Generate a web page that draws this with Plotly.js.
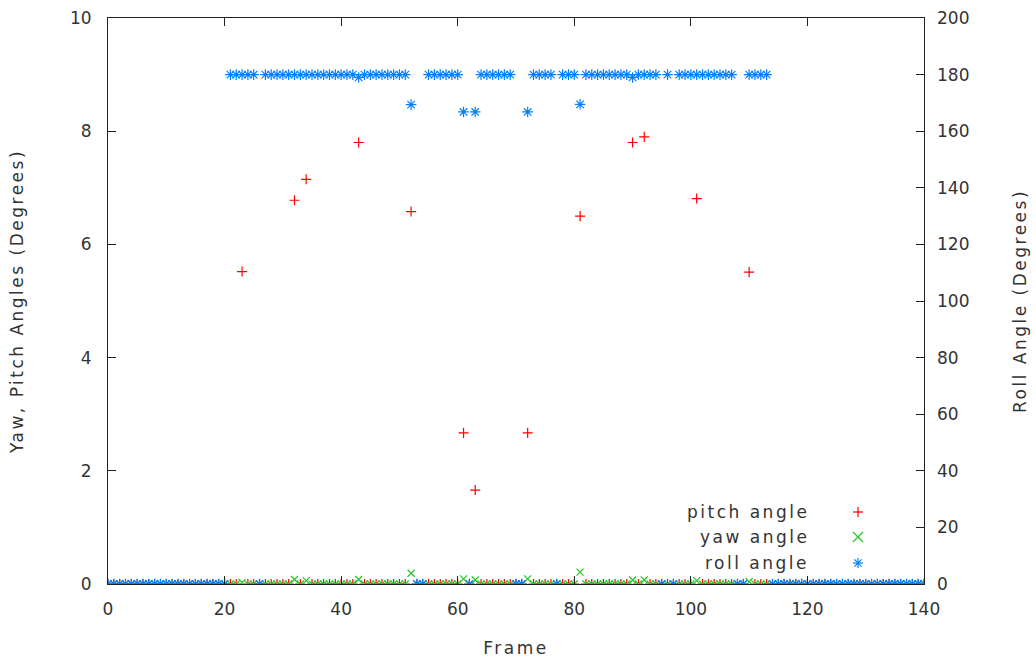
<!DOCTYPE html>
<html><head><meta charset="utf-8">
<script src="https://cdn.plot.ly/plotly-3.0.1.min.js"></script>
<style>
html,body{margin:0;padding:0;background:#fff;}
#chart{width:1036px;height:662px;}
.xtitle,.ytitle,.y2title,.annotation-text{letter-spacing:2.5px;}
</style>
</head><body><div id="chart"></div>
<script>
const frames = [0,1,2,3,4,5,6,7,8,9,10,11,12,13,14,15,16,17,18,19,
20,21,22,23,24,25,26,27,28,29,30,31,32,33,34,35,36,37,38,39,
40,41,42,43,44,45,46,47,48,49,50,51,52,53,54,55,56,57,58,59,
60,61,62,63,64,65,66,67,68,69,70,71,72,73,74,75,76,77,78,79,
80,81,82,83,84,85,86,87,88,89,90,91,92,93,94,95,96,97,98,99,
100,101,102,103,104,105,106,107,108,109,110,111,112,113,114,115,116,117,118,119,
120,121,122,123,124,125,126,127,128,129,130,131,132,133,134,135,136,137,138,139,140];

const pitchAngle = [0,0,0,0,0,0,0,0,0,0,
0,0,0,0,0,0,0,0,0,0,
0,0,0,5.52,0,0,0,0,0,0,
0,0,6.78,0,7.15,0,0,0,0,0,
0,0,0,7.80,0,0,0,0,0,0,
0,0,6.58,0,0,0,0,0,0,0,
0,2.67,0,1.66,0,0,0,0,0,0,
0,0,2.67,0,0,0,0,0,0,0,
0,6.50,0,0,0,0,0,0,0,0,
7.80,0,7.90,0,0,0,0,0,0,0,
0,6.81,0,0,0,0,0,0,0,0,
5.51,0,0,0,0,0,0,0,0,0,
0,0,0,0,0,0,0,0,0,0,
0,0,0,0,0,0,0,0,0,0,
0];

const yawAngle = [0,0,0,0,0,0,0,0,0,0,
0,0,0,0,0,0,0,0,0,0,
0,0,0,0.03,0,0,0,0,0,0,
0,0,0.08,0,0.06,0,0,0,0,0,
0,0,0,0.08,0,0,0,0,0,0,
0,0,0.19,0,0,0,0,0,0,0,
0,0.09,0,0.07,0,0,0,0,0,0,
0,0,0.09,0,0,0,0,0,0,0,
0,0.21,0,0,0,0,0,0,0,0,
0.07,0,0.07,0,0,0,0,0,0,0,
0,0.06,0,0,0,0,0,0,0,0,
0.04,0,0,0,0,0,0,0,0,0,
0,0,0,0,0,0,0,0,0,0,
0,0,0,0,0,0,0,0,0,0,
0];

const rollAngle = [0,0,0,0,0,0,0,0,0,0,
0,0,0,0,0,0,0,0,0,0,
0,180,180,180,180,180,0,180,180,180,
180,180,180,180,180,180,180,180,180,180,
180,180,180,179,180,180,180,180,180,180,
180,180,169.4,0,0,180,180,180,180,180,
180,166.8,0,166.8,180,180,180,180,180,180,
0,0,166.8,180,180,180,180,0,180,180,
180,169.5,180,180,180,180,180,180,180,180,
179,180,180,180,180,0,180,0,180,180,
180,180,180,180,180,180,180,180,0,0,
180,180,180,180,0,0,0,0,0,0,
0,0,0,0,0,0,0,0,0,0,
0,0,0,0,0,0,0,0,0,0,
0];

const seriesNames = ['pitch angle', 'yaw angle', 'roll angle'];
const xTitle = 'Frame';
const yTitle = 'Yaw, Pitch Angles (Degrees)';
const y2Title = 'Roll Angle (Degrees)';

const FONT = 'DejaVu Sans, sans-serif';
const TXT = '#333333';
const AX = '#222222';
const RED = '#ff0000', GREEN = '#22c822', BLUE = '#0080ff';

const traces = [
  {x: frames, y: pitchAngle, name: seriesNames[0], type: 'scatter', mode: 'markers',
   marker: {symbol: 'cross-thin-open', size: 7.2, color: RED, line: {color: RED, width: 1.2}}},
  {x: frames, y: yawAngle, name: seriesNames[1], type: 'scatter', mode: 'markers',
   marker: {symbol: 'x-thin-open', size: 7, color: GREEN, line: {color: GREEN, width: 1.2}}},
  {x: frames, y: rollAngle, name: seriesNames[2], type: 'scatter', mode: 'markers', yaxis: 'y2',
   marker: {symbol: 'asterisk-open', size: 8.8, color: BLUE, line: {color: BLUE, width: 1.2}}}
];

const L = 108, R = 924, T = 18, B = 584;
const pw = R - L, ph = B - T;
function px2x(p){ return (p - L) / pw; }
function px2y(p){ return (B - p) / ph; }

const legRows = [512, 537, 563];
const legTextX = px2x(811), legSymX = px2x(858);
const annotations = seriesNames.map((n, i) => ({
  text: n, xref: 'paper', yref: 'paper', x: legTextX, y: px2y(legRows[i]),
  xanchor: 'right', yanchor: 'middle', showarrow: false,
  font: {family: FONT, size: 17, color: TXT}
}));

function seg(ax, ay, x0, y0, x1, y1, color){
  return {type: 'line', xref: 'paper', yref: 'paper', xsizemode: 'pixel', ysizemode: 'pixel',
    xanchor: ax, yanchor: ay, x0: x0, y0: y0, x1: x1, y1: y1,
    line: {color: color, width: 1.2}};
}
const shapes = [];
{ const ay = px2y(legRows[0]);
  shapes.push(seg(legSymX, ay, -5, 0, 5, 0, RED), seg(legSymX, ay, 0, -5, 0, 5, RED)); }
{ const ay = px2y(legRows[1]);
  shapes.push(seg(legSymX, ay, -5, -5, 5, 5, GREEN), seg(legSymX, ay, -5, 5, 5, -5, GREEN)); }
{ const ay = px2y(legRows[2]);
  shapes.push(seg(legSymX, ay, -5, 0, 5, 0, BLUE), seg(legSymX, ay, 0, -5, 0, 5, BLUE),
    seg(legSymX, ay, -3.6, -3.6, 3.6, 3.6, BLUE), seg(legSymX, ay, -3.6, 3.6, 3.6, -3.6, BLUE)); }

const axCommon = {
  ticks: 'inside', ticklen: 8, tickwidth: 1, tickcolor: AX,
  showgrid: false, zeroline: false,
  tickfont: {family: FONT, size: 17, color: TXT}
};

const layout = {
  width: 1036, height: 662,
  margin: {l: L, r: 1036 - R, t: T, b: 662 - B, pad: 0},
  paper_bgcolor: '#ffffff', plot_bgcolor: '#ffffff',
  showlegend: false,
  xaxis: Object.assign({}, axCommon, {
    range: [0, 140], tick0: 0, dtick: 20, showline: true, linecolor: AX, linewidth: 1,
    mirror: 'ticks', ticklabelstandoff: 10,
    title: {text: xTitle, font: {family: FONT, size: 17, color: TXT}, standoff: 23}
  }),
  yaxis: Object.assign({}, axCommon, {
    range: [0, 10], tick0: 0, dtick: 2, showline: true, linecolor: AX, linewidth: 1,
    mirror: true, ticklabelstandoff: 12,
    title: {text: yTitle, font: {family: FONT, size: 17, color: TXT}, standoff: 42}
  }),
  yaxis2: Object.assign({}, axCommon, {
    overlaying: 'y', side: 'right', range: [0, 200], tick0: 0, dtick: 20,
    showline: false, ticklabelstandoff: 12,
    title: {text: y2Title, font: {family: FONT, size: 17, color: TXT}, standoff: 45}
  }),
  annotations: annotations,
  shapes: shapes
};

Plotly.newPlot('chart', traces, layout, {staticPlot: true, displayModeBar: false});
</script></body></html>
